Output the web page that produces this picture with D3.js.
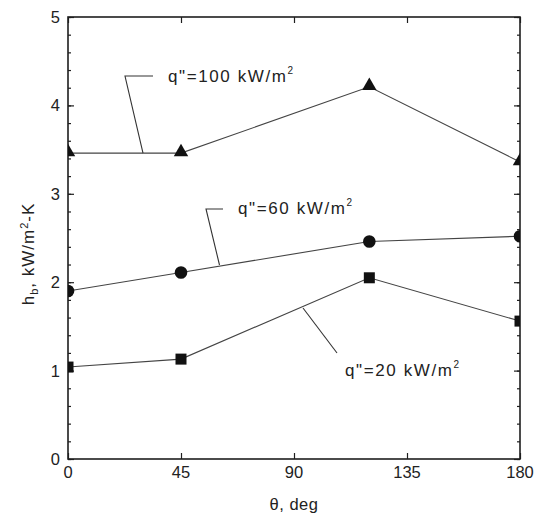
<!DOCTYPE html>
<html><head><meta charset="utf-8">
<script src="https://cdn.jsdelivr.net/npm/d3@7"></script>
<style>body{margin:0;background:#fff}svg{display:block}text{font-family:"Liberation Sans",Arial,sans-serif;fill:#222}</style>
</head><body><svg id="c" width="540" height="517"></svg>
<script>
const angles = [0, 45, 120, 180];
const q100 = [3.46, 3.46, 4.21, 3.36];
const q60 = [1.90, 2.11, 2.46, 2.52];
const q20 = [1.04, 1.13, 2.05, 1.56];
const xTicks = [0, 45, 90, 135, 180];
const yTicks = [0, 1, 2, 3, 4, 5];
const seriesLabels = ['q"=100 kW/m', 'q"=60 kW/m', 'q"=20 kW/m'];

const svg = d3.select('#c');
const L = 68, R = 520, T = 17, B = 459;
const x = d3.scaleLinear().domain([0, 180]).range([L, R]);
const y = d3.scaleLinear().domain([0, 5]).range([B, T]);
const ink = '#1e1e1e';

svg.append('defs').append('clipPath').attr('id', 'pc')
  .append('rect').attr('x', L).attr('y', T).attr('width', R - L).attr('height', B - T);

// axes
const minor = d3.range(0, 5.01, 0.2);
const gL = svg.append('g').attr('transform', `translate(${L},0)`)
  .call(d3.axisRight(y).tickValues(minor).tickSize(3).tickFormat(''));
const gL2 = svg.append('g').attr('transform', `translate(${L},0)`)
  .call(d3.axisRight(y).tickValues(yTicks).tickSize(6).tickFormat(''));
const gR = svg.append('g').attr('transform', `translate(${R},0)`)
  .call(d3.axisLeft(y).tickValues(minor).tickSize(3).tickFormat(''));
const gR2 = svg.append('g').attr('transform', `translate(${R},0)`)
  .call(d3.axisLeft(y).tickValues(yTicks).tickSize(6).tickFormat(''));
const gB = svg.append('g').attr('transform', `translate(0,${B})`)
  .call(d3.axisTop(x).tickValues(xTicks).tickSize(6).tickFormat(''));
const gT = svg.append('g').attr('transform', `translate(0,${T})`)
  .call(d3.axisBottom(x).tickValues(xTicks).tickSize(6).tickFormat(''));
[gL, gL2, gR, gR2, gB, gT].forEach(g => {
  g.select('.domain').remove();
  g.selectAll('line').attr('stroke', ink).attr('stroke-width', 1.2);
});
svg.append('rect').attr('x', L).attr('y', T).attr('width', R - L).attr('height', B - T)
  .attr('fill', 'none').attr('stroke', ink).attr('stroke-width', 1.6);

// tick labels
svg.append('g').selectAll('text').data(yTicks).join('text')
  .attr('x', L - 8).attr('y', d => y(d)).attr('dy', '0.36em')
  .attr('text-anchor', 'end').attr('font-size', 16.5).text(d => d);
svg.append('g').selectAll('text').data(xTicks).join('text')
  .attr('x', d => x(d)).attr('y', B + 19)
  .attr('text-anchor', 'middle').attr('font-size', 16.5).text(d => d);

// axis titles
svg.append('text').attr('x', x(90)).attr('y', 510).attr('text-anchor', 'middle')
  .attr('font-size', 16.5).attr('letter-spacing', 0.5).text('θ,  deg');
const yl = svg.append('text').attr('transform', 'translate(34,254) rotate(-90)')
  .attr('text-anchor', 'middle').attr('font-size', 17).attr('letter-spacing', 1);
yl.append('tspan').text('h');
yl.append('tspan').attr('font-size', 11).attr('dy', 4).text('b');
yl.append('tspan').attr('dy', -4).text(',  kW/m');
yl.append('tspan').attr('font-size', 11).attr('dy', -6).text('2');
yl.append('tspan').attr('dy', 6).text('-K');

// series
const line = d3.line().x((d, i) => x(angles[i])).y(d => y(d));
const plot = svg.append('g').attr('clip-path', 'url(#pc)');
[q100, q60, q20].forEach(s => {
  plot.append('path').datum(s).attr('d', line).attr('fill', 'none')
    .attr('stroke', '#444').attr('stroke-width', 1.1);
});
plot.selectAll('.tri').data(q100).join('path')
  .attr('d', d3.symbol().type(d3.symbolTriangle).size(90))
  .attr('transform', (d, i) => `translate(${x(angles[i])},${y(d) - 1})`).attr('fill', '#111');
plot.selectAll('.cir').data(q60).join('circle')
  .attr('cx', (d, i) => x(angles[i])).attr('cy', d => y(d)).attr('r', 6.3).attr('fill', '#111');
plot.selectAll('.sq').data(q20).join('rect')
  .attr('x', (d, i) => x(angles[i]) - 5.5).attr('y', d => y(d) - 5.5)
  .attr('width', 11).attr('height', 11).attr('fill', '#111');

// annotations
function label(tx, ty, txt) {
  const t = svg.append('text').attr('x', tx).attr('y', ty).attr('font-size', 17).attr('letter-spacing', 1.6);
  t.append('tspan').text(txt);
  t.append('tspan').attr('font-size', 10).attr('dy', -8).text('2');
}
const lead = d3.line();
const a100x = 143, a60x = 219.5, a20x = 303;
svg.append('path').attr('d', lead([[153, 76], [125, 76], [a100x, y(q100[0])]]))
  .attr('fill', 'none').attr('stroke', '#333').attr('stroke-width', 1.1);
label(168, 82, seriesLabels[0]);
svg.append('path').attr('d', lead([[223, 209], [206, 209], [a60x, 265]]))
  .attr('fill', 'none').attr('stroke', '#333').attr('stroke-width', 1.1);
label(238, 214, seriesLabels[1]);
svg.append('path').attr('d', lead([[a20x, 308], [337, 353]]))
  .attr('fill', 'none').attr('stroke', '#333').attr('stroke-width', 1.1);
label(345, 376, seriesLabels[2]);
</script></body></html>
